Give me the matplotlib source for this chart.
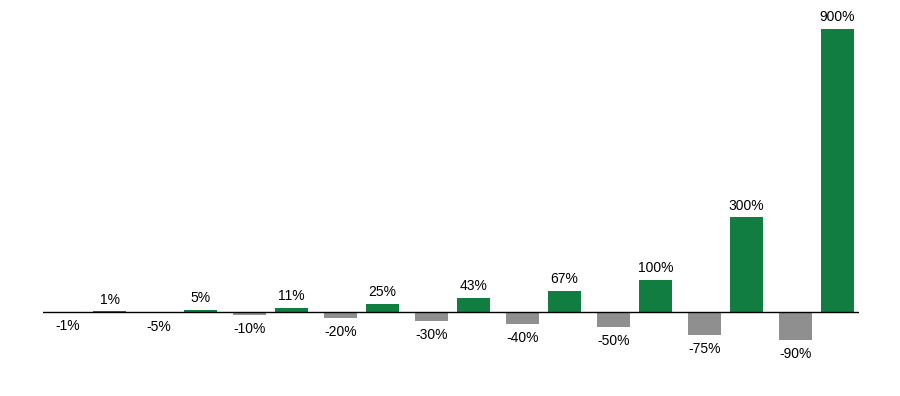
import matplotlib.pyplot as plt
import numpy as np

plt.rcParams['font.family'] = ['Liberation Sans', 'DejaVu Sans']

losses = [-1, -5, -10, -20, -30, -40, -50, -75, -90]
gains = [1, 5, 11, 25, 43, 67, 100, 300, 900]

gray = '#8f8f8f'
green = '#127d41'

fig = plt.figure(figsize=(9, 3.96), dpi=100)
ax = fig.add_axes([43 / 900, 46.6 / 396, 816 / 900, 336.1 / 396])

x = np.arange(len(losses))
w = 0.36
off = 0.23
b1 = ax.bar(x - off, losses, width=w, color=gray)
b2 = ax.bar(x + off, gains, width=w, color=green)

for rect, v in zip(b1, losses):
    ax.annotate(f'{v}%', (rect.get_x() + rect.get_width() / 2, v),
                xytext=(0, -5), textcoords='offset points',
                ha='center', va='top', fontsize=10)
for rect, v in zip(b2, gains):
    ax.annotate(f'{v}%', (rect.get_x() + rect.get_width() / 2, v),
                xytext=(0, 3.5), textcoords='offset points',
                ha='center', va='bottom', fontsize=10)

ax.axhline(0, color='black', linewidth=1, zorder=3)
ax.set_xlim(-0.505, 8.47)
ax.set_ylim(-120, 950)
ax.axis('off')

plt.savefig('out.png', dpi=100)
